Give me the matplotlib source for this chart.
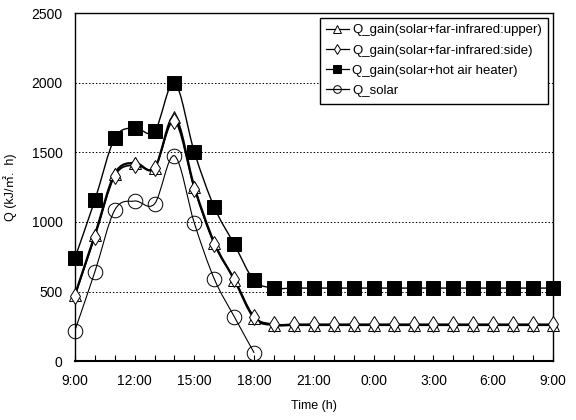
import numpy as np
import matplotlib
matplotlib.use("Agg")
import matplotlib.pyplot as plt
from matplotlib.path import Path
from matplotlib.patches import PathPatch
from matplotlib.lines import Line2D

plt.rcParams["font.family"] = ["Liberation Sans", "Noto Sans CJK KR"]

# data: hourly from 9:00 to 9:00 next day
hours = list(range(25))
tick_labels = ["9:00", "12:00", "15:00", "18:00", "21:00", "0:00", "3:00", "6:00", "9:00"]

q_upper = [475, 905, 1345, 1425, 1385, 1755, 1250, 850, 585, 310,
           260, 260, 260, 260, 260, 260, 260, 260, 260, 260, 260, 260, 260, 260, 260]
q_side = [470, 895, 1330, 1410, 1390, 1725, 1240, 840, 590, 320,
          265, 265, 265, 265, 265, 265, 265, 265, 265, 265, 265, 265, 265, 265, 265]
q_heater = [740, 1155, 1600, 1675, 1650, 2000, 1500, 1105, 840, 580,
            525, 525, 525, 525, 525, 525, 525, 525, 525, 525, 525, 525, 525, 525, 525]
solar_hours = list(range(10))
q_solar = [220, 640, 1085, 1150, 1130, 1475, 990, 590, 320, 60]


def smooth_path(xs, ys):
    # Catmull-Rom curve through the points as cubic Bezier segments
    p = np.column_stack([xs, ys]).astype(float)
    verts = [p[0]]
    codes = [Path.MOVETO]
    n = len(p)
    for i in range(n - 1):
        p0 = p[i - 1] if i > 0 else p[i]
        p3 = p[i + 2] if i + 2 < n else p[i + 1]
        c1 = p[i] + (p[i + 1] - p0) / 6
        c2 = p[i + 1] - (p3 - p[i]) / 6
        verts += [c1, c2, p[i + 1]]
        codes += [Path.CURVE4] * 3
    return Path(verts, codes)


fig = plt.figure(figsize=(5.76, 4.2), dpi=100)
ax = fig.add_axes([0.130, 0.140, 0.830, 0.829])

series = [
    (hours, q_upper, "^", "white", 1.6, "Q_gain(solar+far-infrared:upper)"),
    (hours, q_side, "d", "white", 1.2, "Q_gain(solar+far-infrared:side)"),
    (hours, q_heater, "s", "black", 1.0, "Q_gain(solar+hot air heater)"),
    (solar_hours, q_solar, "o", "none", 0.8, "Q_solar"),
]
sizes = {"^": 8, "d": 8, "s": 10, "o": 10.5}

handles = []
for xs, ys, mk, fc, lw, label in series:
    ax.add_patch(PathPatch(smooth_path(xs, ys), facecolor="none", edgecolor="black", lw=lw, zorder=3))
    ax.plot(xs, ys, ls="none", marker=mk, ms=sizes[mk], mfc=fc, mec="black", mew=0.7,
            zorder=4, clip_on=False)
    handles.append(Line2D([], [], color="black", lw=0.9, marker=mk, ms=5.5, mfc=fc,
                          mec="black", mew=0.7, label=label))

ax.set_xlim(0, 24)
ax.set_ylim(0, 2500)
ax.set_xticks(range(0, 25, 3))
ax.set_xticklabels(tick_labels)
ax.set_xticks(range(25), minor=True)
ax.set_yticks(range(0, 2501, 500))
ax.tick_params(axis="x", which="both", direction="in", length=4, width=0.8, labelsize=10, pad=9)
ax.tick_params(axis="y", length=0, labelsize=10, pad=9)
ax.grid(axis="y", color="black", ls=(0, (1.5, 2)), lw=0.7)
for s in ax.spines.values():
    s.set_linewidth(1.0)
ax.spines["bottom"].set_linewidth(1.5)

ax.set_xlabel("Time (h)", fontsize=9, labelpad=9)
ax.set_ylabel("Q (kJ/\u33a1.  h)", fontsize=9, labelpad=10)

leg = ax.legend(handles=handles, loc="upper right", fontsize=9.5, handlelength=1.7,
                handletextpad=0.25, borderaxespad=0.35, fancybox=False, framealpha=1,
                edgecolor="black", labelspacing=0.6, borderpad=0.5)
leg.get_frame().set_linewidth(1.0)

fig.savefig("out.png", dpi=100)
